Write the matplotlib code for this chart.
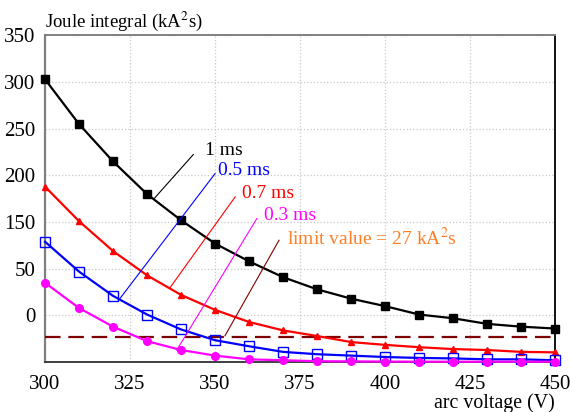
import numpy as np
import matplotlib
matplotlib.use("Agg")
import matplotlib.pyplot as plt

# arc voltage steps (V)
voltage = np.arange(300, 451, 10)

# Joule integral (kA^2 s) per arc duration
j_1ms = [303, 255, 215, 180, 152, 127, 108, 91, 78, 68, 60, 51, 47, 41, 38, 36]
j_07ms = [188, 151, 119, 93, 72, 56, 43, 34, 28, 21.5, 18.5, 16, 14, 13, 11, 10.5]
j_05ms = [129, 97, 71, 51, 35, 23.5, 17, 11, 8.5, 7, 5.5, 4.5, 4, 3, 3, 2]
j_03ms = [85, 58, 38, 22.5, 13, 7, 3, 2, 1, 0.8, 0.6, 0.5, 0.5, 0.5, 0.5, 0.5]
limit_value = 27

y_ticks = [50, 100, 150, 200, 250, 300, 350]
y_tick_labels = ["0", "50", "150", "200", "250", "300", "350"]
x_ticks = [300, 325, 350, 375, 400, 425, 450]

plt.rcParams["font.family"] = ["Liberation Serif", "DejaVu Serif"]

fig = plt.figure(figsize=(5.7, 4.12), dpi=100)
ax = fig.add_axes([0.079, 0.121, 0.895, 0.793])

ax.plot(voltage, j_1ms, color="black", lw=1.6, marker="s", ms=5.5, zorder=4, clip_on=False)
ax.plot(voltage, j_07ms, color="red", lw=1.6, marker="^", ms=5, zorder=4, clip_on=False)
ax.plot(voltage, j_05ms, color="blue", lw=1.6, marker="s", ms=7, mfc="none",
        mew=1.0, zorder=4, clip_on=False)
ax.plot(voltage, j_03ms, color="#ff00ff", lw=1.6, marker="o", ms=5.5, zorder=4, clip_on=False)
ax.plot([300, 450], [limit_value, limit_value], color="#7f0000", lw=1.6,
        dashes=(7, 3.5), zorder=3)

# leader lines with labels
labels = [
    ("1 ms", "black", "black", (331.9, 174.5), (343.6, 222.4), (347.0, 227)),
    ("0.5 ms", "blue", "blue", (322.1, 68.5), (350.0, 202.0), (350.9, 205.6)),
    ("0.7 ms", "red", "red", (336.6, 79.0), (355.9, 177.0), (357.9, 181)),
    ("0.3 ms", "#ff00ff", "#ff00ff", (338.7, 12.8), (362.3, 153.9), (364.4, 157)),
    ("limit value = 27 kA$^2$s", "#ff7f27", "#7f0000", (352.9, 28.2), (368.8, 130.6),
     (371.2, 132.8)),
]
for text, tcolor, lcolor, p0, p1, tp in labels:
    ax.plot([p0[0], p1[0]], [p0[1], p1[1]], color=lcolor, lw=0.8, zorder=5)
    ax.text(tp[0], tp[1], text, color=tcolor, fontsize=14, ha="left", va="center",
            math_fontfamily="stix")

ax.set_xlim(300, 450)
ax.set_ylim(0, 350)
ax.set_xticks(x_ticks)
ax.set_yticks(y_ticks)
ax.set_yticklabels(y_tick_labels)
ax.tick_params(length=0, labelsize=15, colors="black")
ax.tick_params(axis="x", pad=9)
ax.tick_params(axis="y", pad=7)
ax.grid(True, color="#c8c8c8", linestyle=":", lw=0.9)
ax.set_axisbelow(True)

ax.spines["left"].set_color("#808080")
ax.spines["left"].set_linewidth(1.6)
ax.spines["top"].set_color("#808080")
ax.spines["top"].set_linewidth(1.4)
ax.spines["right"].set_color("black")
ax.spines["right"].set_linewidth(1.3)
ax.spines["bottom"].set_color("#303030")
ax.spines["bottom"].set_linewidth(1.3)

fig.text(0.079, 0.948, "Joule integral (kA$^2$s)", fontsize=13.5, ha="left", va="center",
         math_fontfamily="stix")
fig.text(0.974, 0.022, "arc voltage (V)", fontsize=14.3, ha="right", va="center")

fig.savefig("out.png", dpi=100)
